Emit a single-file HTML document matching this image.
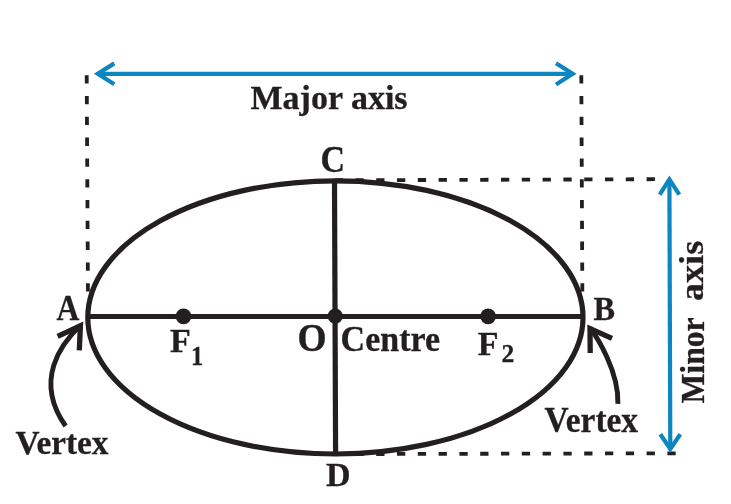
<!DOCTYPE html>
<html><head><meta charset="utf-8">
<style>
html,body{margin:0;padding:0;background:#fff;}
svg{display:block;will-change:transform;opacity:0.999}
text{font-family:"Liberation Serif",serif;font-weight:bold;fill:#231f20;stroke:#231f20;stroke-width:0.3}
</style></head><body>
<svg width="731" height="504" viewBox="0 0 731 504">
<rect width="731" height="504" fill="#fff"/>
<!-- dashed -->
<g stroke="#231f20" stroke-width="3.8" stroke-dasharray="8.3 12.5" fill="none">
<line x1="86.7" y1="75.2" x2="88" y2="300"/>
<line x1="581.3" y1="75.2" x2="582.4" y2="300"/>
<line x1="334.6" y1="180.3" x2="656" y2="179.2"/>
<line x1="334.6" y1="454.1" x2="677" y2="453.3"/>
</g>
<!-- ellipse -->
<ellipse cx="335.4" cy="317.4" rx="247.6" ry="136.6" fill="none" stroke="#231f20" stroke-width="5.2"/>
<line x1="87.8" y1="316.4" x2="583" y2="316.4" stroke="#231f20" stroke-width="5"/>
<line x1="334.5" y1="180.3" x2="335.6" y2="453.6" stroke="#231f20" stroke-width="5.2"/>
<circle cx="183.5" cy="316.3" r="7.9" fill="#231f20"/>
<circle cx="488.1" cy="316.3" r="7.9" fill="#231f20"/>
<circle cx="335.2" cy="316.2" r="7.6" fill="#231f20"/>
<!-- blue arrows -->
<g stroke="#0c86c0" stroke-width="4.2" fill="none" stroke-linecap="butt" stroke-linejoin="miter" stroke-miterlimit="10">
<line x1="97.8" y1="73.9" x2="572.7" y2="73.9"/>
<polyline points="114.3,63.4 97.8,73.8 114.3,84.2"/>
<polyline points="556,63.2 572.7,73.8 556,84.4"/>
<line x1="669.4" y1="179.4" x2="670.3" y2="449"/>
<polyline points="659.7,194.6 669.4,179.4 679.3,194.6"/>
<polyline points="660.3,434.2 670.3,449 680.3,434.2"/>
</g>
<!-- labels -->
<text x="250.5" y="109.4" font-size="34">Major axis</text>
<text transform="translate(320.6,171.9) scale(1,1.10)" font-size="34">C</text>
<text x="326" y="486.3" font-size="34">D</text>
<text transform="translate(56.6,319.5) scale(0.93,1.06)" font-size="34">A</text>
<text transform="translate(593.4,320.2) scale(0.95,1)" font-size="34">B</text>
<text x="170" y="352.4" font-size="34">F</text>
<text transform="translate(190.9,365.1) scale(0.87,1)" font-size="28">1</text>
<text x="477.7" y="354.8" font-size="34">F</text>
<text x="501.5" y="362.2" font-size="25.5">2</text>
<text transform="translate(297.6,351.2) scale(1.10,1.20)" font-size="34">O</text>
<text transform="translate(340.6,351.1) scale(1,1.05)" font-size="34">Centre</text>
<text x="15.5" y="454" font-size="34" textLength="93" lengthAdjust="spacingAndGlyphs">Vertex</text>
<text transform="translate(544.6,432.4) scale(1,1.05)" font-size="34" textLength="93.5" lengthAdjust="spacingAndGlyphs">Vertex</text>
<text transform="translate(703.6,403.6) rotate(-90)" font-size="34" textLength="86.3" lengthAdjust="spacingAndGlyphs">Minor</text>
<text transform="translate(703.4,301) rotate(-90)" font-size="34" textLength="60.2" lengthAdjust="spacingAndGlyphs">axis</text>
<!-- curved arrows -->
<g stroke="#231f20" stroke-width="4.9" fill="none">
<path d="M65.6,426 C33.3,380.1 61.5,343.3 80.5,325.2"/>
<path d="M617.9,403.8 C619.1,371.4 596.6,336.7 590,327.8"/>
</g>
<g stroke="#231f20" stroke-width="5.3" fill="none" stroke-linejoin="miter">
<polyline points="57.6,336.3 80.4,325.8 79.3,350.3"/>
<polyline points="590.2,352.9 590,328.7 612,338.4"/>
</g>
</svg>
</body></html>
